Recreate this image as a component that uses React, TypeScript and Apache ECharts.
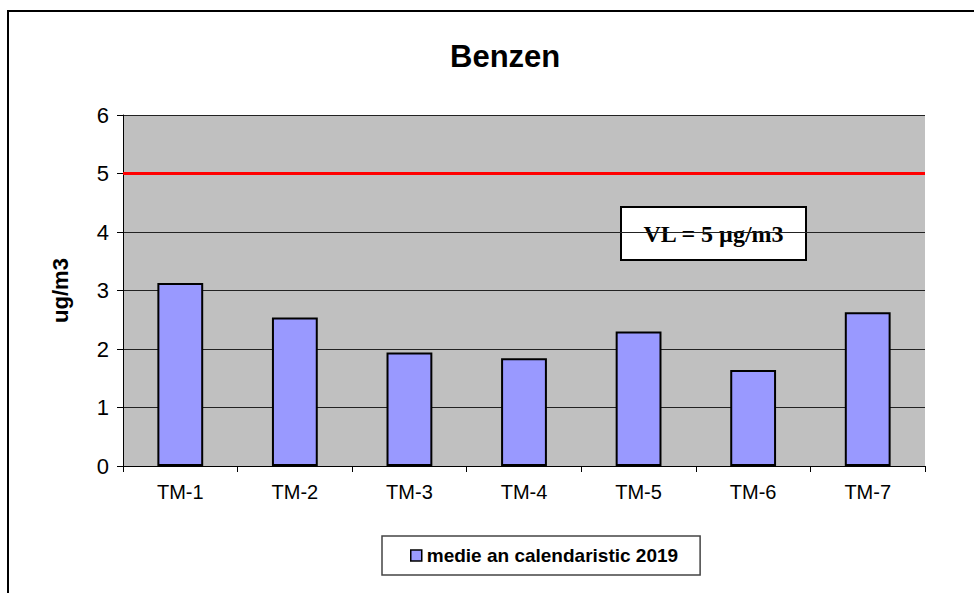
import React, { useEffect, useRef } from "react";
import * as echarts from "echarts";

const categories = ["TM-1", "TM-2", "TM-3", "TM-4", "TM-5", "TM-6", "TM-7"];
const values = [3.13, 2.54, 1.94, 1.84, 2.3, 1.64, 2.63];
const limitValue = 5;
const seriesName = "medie an calendaristic 2019";
const titleText = "Benzen";
const yAxisName = "ug/m3";
const limitLabel = "VL = 5 µg/m3";

export default function App() {
  const ref = useRef<HTMLDivElement>(null);
  useEffect(() => {
    document.body.style.margin = "0";
    document.body.style.overflow = "hidden";
    const chart = echarts.init(ref.current!, null, { renderer: "svg" });
    chart.setOption({
      animation: false,
      backgroundColor: "#ffffff",
      title: {
        text: titleText,
        left: 445,
        top: 36,
        textStyle: { fontFamily: "Liberation Sans, Arial", fontSize: 31, fontWeight: "bold", color: "#000" },
      },
      grid: { left: 123, right: 49, top: 115, bottom: 127, backgroundColor: "#c0c0c0", show: true, borderWidth: 0 },
      legend: {
        bottom: 18,
        left: 382,
        padding: [10, 22, 10, 28],
        itemWidth: 11,
        itemHeight: 11,
        itemGap: 4,
        borderColor: "#444",
        borderWidth: 1.5,
        borderRadius: 0,
        itemStyle: { borderColor: "#000", borderWidth: 1.5 },
        textStyle: { fontFamily: "Liberation Sans, Arial", fontSize: 19, fontWeight: "bold", color: "#000" },
        data: [{ name: seriesName, icon: "rect" }],
      },
      xAxis: {
        type: "category",
        data: categories,
        axisLine: { lineStyle: { color: "#000", width: 1 } },
        axisTick: { show: true, length: 6, lineStyle: { color: "#000" } },
        axisLabel: { fontFamily: "Liberation Sans, Arial", fontSize: 20, color: "#000", margin: 16 },
      },
      yAxis: {
        type: "value",
        min: 0,
        max: 6,
        interval: 1,
        name: yAxisName,
        nameLocation: "middle",
        nameGap: 52,
        nameTextStyle: { fontFamily: "Liberation Sans, Arial", fontSize: 22, fontWeight: "bold", color: "#000" },
        axisLine: { show: true, lineStyle: { color: "#000", width: 1 } },
        axisTick: { show: true, length: 6, lineStyle: { color: "#000" } },
        axisLabel: { fontFamily: "Liberation Sans, Arial", fontSize: 22, color: "#000", margin: 14 },
        splitLine: { show: true, lineStyle: { color: "#222", width: 1 } },
      },
      series: [
        {
          name: seriesName,
          type: "bar",
          data: values,
          barWidth: "40%",
          itemStyle: { color: "#9999ff", borderColor: "#000", borderWidth: 2 },
          markLine: {
            symbol: "none",
            silent: true,
            label: { show: false },
            lineStyle: { color: "#ff0000", width: 3, type: "solid" },
            data: [{ yAxis: limitValue }],
          },
        },
      ],
      graphic: [
        {
          type: "rect",
          shape: { x: 8, y: 11, width: 1000, height: 1000 },
          style: { fill: "none", stroke: "#000", lineWidth: 2 },
          silent: true,
        },
        {
          type: "group",
          left: 620,
          top: 206,
          children: [
            {
              type: "rect",
              shape: { x: 0, y: 0, width: 185, height: 53 },
              style: { fill: "#fff", stroke: "#000", lineWidth: 2 },
            },
            {
              type: "text",
              x: 92.5,
              y: 26.5,
              style: {
                text: limitLabel,
                fill: "#000",
                font: "bold 24px 'Liberation Serif', 'Times New Roman', serif",
                textAlign: "center",
                textVerticalAlign: "middle",
              },
            },
          ],
        },
      ],
    });
    return () => chart.dispose();
  }, []);
  return <div ref={ref} style={{ width: 974, height: 593 }} />;
}
